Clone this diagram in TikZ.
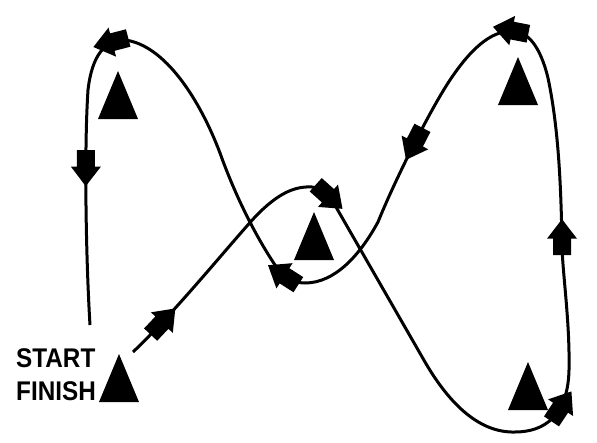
\documentclass[tikz,border=0pt]{standalone}
\usepackage{fontspec}
\setmainfont{Liberation Sans}
\usetikzlibrary{shapes.arrows}

\tikzset{
  course/.style={line width=3},
  courseflag/.style={single arrow, fill=black, draw=none, inner sep=0pt,
    inner ysep=7.5pt, minimum height=36pt, minimum width=27pt,
    single arrow head extend=6pt, single arrow tip angle=75,
    sloped, allow upside down},
  marklabel/.style={anchor=base west, inner sep=0pt,
    font=\bfseries\fontsize{27}{33}\selectfont, transform shape, xscale=0.9}
}

% pylon: base centre given
\newcommand{\pylon}[1]{\fill #1 +(-20,0) -- +(20,0) -- +(0,-48) -- cycle;}

\begin{document}
\begin{tikzpicture}[x=1pt, y=-1pt]
  \useasboundingbox (0,0) rectangle (597,442);

  \pylon{(118,119)}
  \pylon{(314,260)}
  \pylon{(518,105)}
  \pylon{(528,410)}
  \pylon{(119,402)}

  \node[marklabel] (startlbl) at (16,367) {START};
  \node[marklabel] (finishlbl) at (16,400) {FINISH};

  % the course, start to finish
  \draw[course] (133,352)
    .. controls (175,312) and (225,250) .. (255,217) node[courseflag, pos=.2] {}
    .. controls (278,193) and (295,186) .. (312,187)
    .. controls (322,188) and (328,195) .. (336,207) node[courseflag, pos=.5] {}
    -- (425,362)
    .. controls (450,405) and (480,433) .. (515,432)
    .. controls (545,432) and (568,415) .. (569,370) node[courseflag, pos=.6] {}
    .. controls (570,320) and (562,270) .. (562,243) node[courseflag, pos=1] {}
    .. controls (561,190) and (559,130) .. (548,78)
    .. controls (540,45) and (527,31) .. (512,31) node[courseflag, pos=.9] {}
    .. controls (490,31) and (470,50) .. (450,80)
    .. controls (430,110) and (395,180) .. (378,222) node[courseflag, pos=.45] {}
    .. controls (360,255) and (335,283) .. (305,283)
    .. controls (292,283) and (283,276) .. (275,265) node[courseflag, pos=.5] {}
    .. controls (255,235) and (235,195) .. (220,153)
    .. controls (200,100) and (165,45) .. (125,40)
    .. controls (105,40) and (92,55) .. (88,90) node[courseflag, pos=.15] {}
    .. controls (84,150) and (86,260) .. (90,325) node[courseflag, pos=.33] {};

\end{tikzpicture}
\end{document}
